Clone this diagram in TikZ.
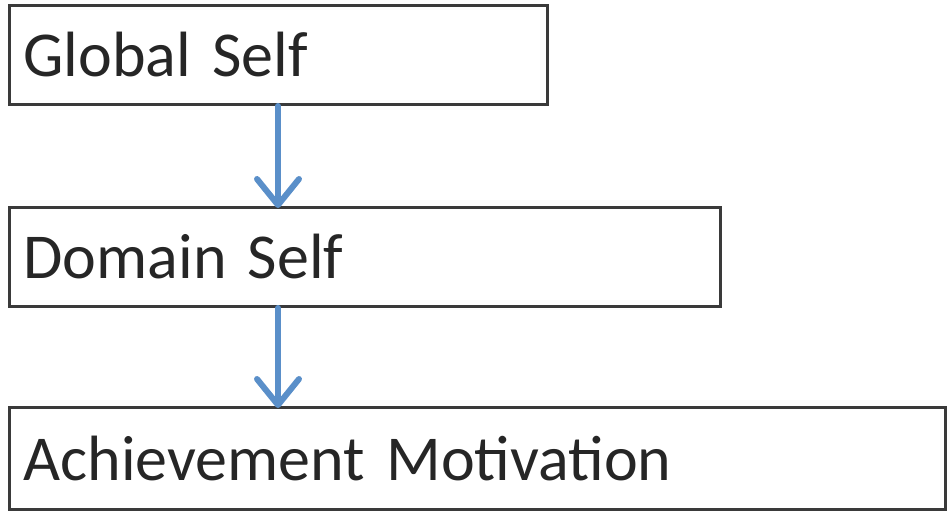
\documentclass[tikz,border=0pt]{standalone}
\usepackage{fontspec}
\setmainfont{Carlito}
\usetikzlibrary{arrows.meta}
\definecolor{boxline}{HTML}{3A3A3A}
\definecolor{arrowblue}{HTML}{5A8FC9}
\begin{document}
\begin{tikzpicture}[x=1pt,y=-1pt,
  box/.style={draw=boxline,line width=3pt,rectangle,anchor=north west,
    inner xsep=14pt,inner ysep=0pt,minimum height=99pt,
    font=\fontsize{64}{70}\selectfont,text=black!85,align=left},
  flow/.style={draw=arrowblue,line width=6pt,line cap=round,
    -{Straight Barb[length=26pt,width=42pt,line cap=round,round]}}]
\useasboundingbox (0,0) rectangle (950,513);
\node[box,text width=510pt] (g) at (8,4) {Global Self};
\node[box,text width=683pt] (d) at (8,206) {Domain Self};
\node[box,text width=908pt,minimum height=102pt] (a) at (8,406) {Achievement Motivation};
\coordinate (ax) at (278,0);
\draw[flow] (g.south -| ax) -- ([yshift=-2pt]d.north -| ax);
\draw[flow] (d.south -| ax) -- ([yshift=-2pt]a.north -| ax);
\end{tikzpicture}
\end{document}
